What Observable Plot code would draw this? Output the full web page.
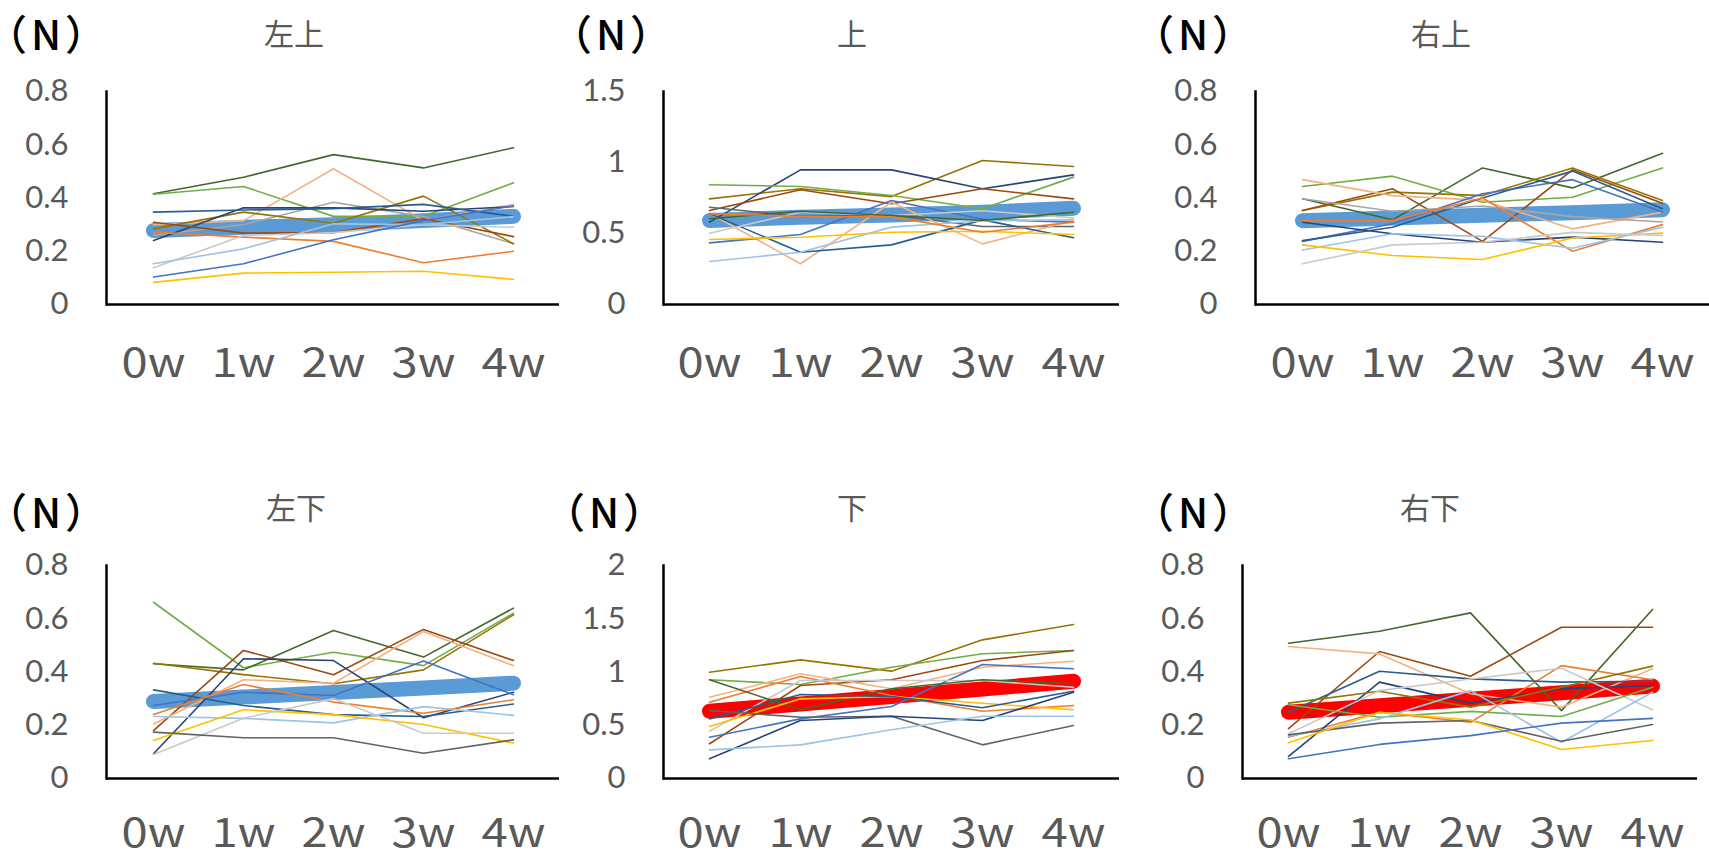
<!DOCTYPE html>
<html>
<head>
<meta charset="utf-8">
<script src="https://cdn.jsdelivr.net/npm/d3@7"></script>
<script src="https://cdn.jsdelivr.net/npm/@observablehq/plot@0.6"></script>
<style>
  html, body { margin: 0; padding: 0; background: #fff; }
  #root { position: relative; width: 1709px; height: 859px; overflow: hidden; }
  .unit { position: absolute; font-family: "Noto Sans CJK JP", sans-serif; font-size: 41px; font-weight: 500; color: #000; line-height: 1.5; letter-spacing: 4px; font-feature-settings: "halt" 1; transform: translate(-50%, -50%); white-space: nowrap; }
  .ttl { position: absolute; font-family: "Noto Sans CJK JP", sans-serif; font-size: 30px; color: #595959; line-height: 1.5; transform: translate(-50%, -50%); white-space: nowrap; }
</style>
</head>
<body>
<div id="root"></div>
<script>
// ---------- data ----------
const weeks = ["0w", "1w", "2w", "3w", "4w"];
const titles = ["左上", "上", "右上", "左下", "下", "右下"];
const unitLabel = "（N）";

// series colours (Excel-like palette)
const blue = "#4472C4", orange = "#ED7D31", gray = "#A5A5A5", yellow = "#FFC000";
const green = "#70AD47", navy = "#264478", brown = "#9E480E", dkgray = "#636363";
const gold = "#997300", steel = "#255E91", dkgreen = "#43682B";
const ltorange = "#F4B183", ltblue = "#9DC3E6", ltgray = "#C9C9C9";
const avgBlue = "#5B9BD5", avgRed = "#FF0000";

// 左上
const ulColors = [dkgreen, green, ltorange, gray, gold, navy, steel, orange, brown, ltgray, ltblue, blue, yellow];
const ulSeries = [
  [0.416, 0.478, 0.563, 0.513, 0.589],
  [0.414, 0.443, 0.331, 0.331, 0.457],
  [0.300, 0.315, 0.510, 0.315, 0.376],
  [0.260, 0.300, 0.384, 0.330, 0.228],
  [0.284, 0.347, 0.305, 0.407, 0.228],
  [0.240, 0.363, 0.363, 0.350, 0.368],
  [0.347, 0.355, 0.360, 0.376, 0.331],
  [0.272, 0.253, 0.237, 0.157, 0.200],
  [0.309, 0.268, 0.270, 0.322, 0.255],
  [0.138, 0.259, 0.270, 0.300, 0.290],
  [0.153, 0.209, 0.303, 0.300, 0.330],
  [0.103, 0.153, 0.243, 0.315, 0.370],
  [0.083, 0.118, 0.121, 0.125, 0.094]
];
const ulAvg = [0.278, 0.290, 0.300, 0.315, 0.331];
const ulTicks = [0, 0.2, 0.4, 0.6, 0.8];

// 上
const uColors = [gold, navy, green, brown, dkgray, ltorange, blue, steel, ltblue, yellow, ltgray, dkgreen, orange];
const uSeries = [
  [0.744, 0.815, 0.760, 1.014, 0.972],
  [0.580, 0.948, 0.948, 0.815, 0.913],
  [0.843, 0.831, 0.768, 0.674, 0.897],
  [0.662, 0.808, 0.709, 0.815, 0.744],
  [0.685, 0.620, 0.630, 0.549, 0.549],
  [0.643, 0.287, 0.720, 0.427, 0.592],
  [0.434, 0.493, 0.732, 0.600, 0.580],
  [0.640, 0.368, 0.420, 0.596, 0.470],
  [0.303, 0.368, 0.545, 0.590, 0.596],
  [0.458, 0.474, 0.509, 0.516, 0.493],
  [0.502, 0.650, 0.627, 0.660, 0.610],
  [0.604, 0.657, 0.627, 0.592, 0.650],
  [0.640, 0.620, 0.617, 0.509, 0.580]
];
const uAvg = [0.592, 0.615, 0.630, 0.650, 0.678];
const uTicks = [0, 0.5, 1, 1.5];

// 右上
const urColors = [dkgreen, green, gold, brown, ltorange, blue, steel, navy, gray, orange, ltblue, yellow, ltgray];
const urSeries = [
  [0.397, 0.318, 0.513, 0.438, 0.568],
  [0.443, 0.482, 0.384, 0.403, 0.513],
  [0.353, 0.422, 0.409, 0.513, 0.391],
  [0.353, 0.435, 0.237, 0.506, 0.380],
  [0.469, 0.409, 0.391, 0.284, 0.347],
  [0.237, 0.303, 0.416, 0.469, 0.347],
  [0.240, 0.290, 0.400, 0.501, 0.360],
  [0.309, 0.266, 0.234, 0.253, 0.234],
  [0.397, 0.350, 0.370, 0.330, 0.310],
  [0.315, 0.315, 0.400, 0.200, 0.300],
  [0.205, 0.266, 0.256, 0.211, 0.290],
  [0.224, 0.184, 0.169, 0.250, 0.268],
  [0.153, 0.224, 0.234, 0.271, 0.259]
];
const urAvg = [0.315, 0.325, 0.335, 0.345, 0.356];
const urTicks = [0, 0.2, 0.4, 0.6, 0.8];

// 左下
const llColors = [green, dkgreen, gold, brown, ltorange, navy, blue, steel, orange, ltblue, yellow, ltgray, dkgray];
const llSeries = [
  [0.662, 0.416, 0.474, 0.424, 0.621],
  [0.431, 0.408, 0.556, 0.456, 0.640],
  [0.433, 0.390, 0.356, 0.408, 0.615],
  [0.180, 0.481, 0.390, 0.560, 0.443],
  [0.205, 0.371, 0.358, 0.552, 0.424],
  [0.093, 0.450, 0.443, 0.228, 0.324],
  [0.274, 0.324, 0.312, 0.441, 0.315],
  [0.333, 0.274, 0.240, 0.233, 0.280],
  [0.240, 0.353, 0.287, 0.245, 0.296],
  [0.233, 0.226, 0.209, 0.270, 0.237],
  [0.143, 0.258, 0.240, 0.203, 0.133],
  [0.090, 0.226, 0.300, 0.170, 0.170],
  [0.174, 0.153, 0.153, 0.095, 0.145]
];
const llAvg = [0.289, 0.306, 0.323, 0.340, 0.358];
const llTicks = [0, 0.2, 0.4, 0.6, 0.8];

// 下
const lColors = [gold, green, brown, ltorange, orange, blue, ltgray, dkgreen, yellow, steel, dkgray, navy, ltblue];
const lSeries = [
  [0.998, 1.114, 1.008, 1.302, 1.446],
  [0.927, 0.883, 1.045, 1.171, 1.202],
  [0.326, 0.873, 0.927, 1.108, 1.202],
  [0.763, 0.983, 0.842, 1.045, 1.101],
  [0.716, 0.958, 0.779, 0.632, 0.685],
  [0.388, 0.560, 0.676, 1.070, 1.030],
  [0.444, 0.920, 0.920, 0.920, 0.857],
  [0.927, 0.645, 0.842, 0.927, 0.890],
  [0.488, 0.748, 0.770, 0.707, 0.645],
  [0.560, 0.789, 0.770, 0.664, 0.820],
  [0.638, 0.575, 0.585, 0.316, 0.498],
  [0.185, 0.545, 0.585, 0.545, 0.810],
  [0.269, 0.316, 0.457, 0.585, 0.585]
];
const lAvg = [0.632, 0.700, 0.770, 0.840, 0.914];
const lTicks = [0, 0.5, 1, 1.5, 2];

// 右下
const lrColors = [dkgreen, brown, ltorange, orange, steel, navy, gold, ltgray, green, ltblue, dkgray, yellow, blue];
const lrSeries = [
  [0.508, 0.553, 0.622, 0.255, 0.635],
  [0.187, 0.477, 0.384, 0.568, 0.568],
  [0.496, 0.468, 0.318, 0.268, 0.412],
  [0.155, 0.249, 0.211, 0.424, 0.371],
  [0.249, 0.403, 0.374, 0.362, 0.365],
  [0.083, 0.362, 0.283, 0.337, 0.349],
  [0.283, 0.328, 0.268, 0.343, 0.422],
  [0.168, 0.330, 0.374, 0.414, 0.258],
  [0.277, 0.230, 0.252, 0.233, 0.343],
  [0.159, 0.224, 0.330, 0.136, 0.324],
  [0.164, 0.208, 0.218, 0.140, 0.203],
  [0.134, 0.249, 0.220, 0.109, 0.143],
  [0.074, 0.128, 0.161, 0.208, 0.226]
];
const lrAvg = [0.249, 0.273, 0.298, 0.322, 0.347];
const lrTicks = [0, 0.2, 0.4, 0.6, 0.8];

// ---------- layout ----------
// plot area: top row y 91..304, bottom row y 565..778
const ML = 106, PLOT_H = 213, H = 395;
const panels = [
  {series: ulSeries, colors: ulColors, avg: ulAvg, avgColor: avgBlue, ticks: ulTicks, axisX: 106,  len: 453, svgTop: 0,   mt: 91,  pad: 44, unitX: 48,   unitY: 33,  titleX: 294,  titleY: 32},
  {series: uSeries,  colors: uColors,  avg: uAvg,  avgColor: avgBlue, ticks: uTicks,  axisX: 663,  len: 456, svgTop: 0,   mt: 91,  pad: 44, unitX: 613,  unitY: 33,  titleX: 852,  titleY: 32},
  {series: urSeries, colors: urColors, avg: urAvg, avgColor: avgBlue, ticks: urTicks, axisX: 1255, len: 454, svgTop: 0,   mt: 91,  pad: 44, unitX: 1195, unitY: 33,  titleX: 1441, titleY: 32},
  {series: llSeries, colors: llColors, avg: llAvg, avgColor: avgBlue, ticks: llTicks, axisX: 106,  len: 453, svgTop: 464, mt: 101, pad: 40, unitX: 48,   unitY: 511, titleX: 296,  titleY: 506},
  {series: lSeries,  colors: lColors,  avg: lAvg,  avgColor: avgRed,  ticks: lTicks,  axisX: 663,  len: 456, svgTop: 464, mt: 101, pad: 40, unitX: 606,  unitY: 511, titleX: 852,  titleY: 506},
  {series: lrSeries, colors: lrColors, avg: lrAvg, avgColor: avgRed,  ticks: lrTicks, axisX: 1242, len: 455, svgTop: 464, mt: 101, pad: 40, unitX: 1195, unitY: 511, titleX: 1430, titleY: 506}
];

const root = document.getElementById("root");

panels.forEach((p, k) => {
  const yMax = p.ticks[p.ticks.length - 1];
  const marks = [
    Plot.axisY({ticks: p.ticks, tickSize: 0, tickPadding: 38, tickFormat: d => String(d),
                fontSize: 31, fontFamily: "Lato, sans-serif", fill: "#595959"}),
    Plot.axisX({tickSize: 0, tickPadding: p.pad, fontSize: 40, fontFamily: "'Noto Sans CJK JP', sans-serif", fill: "#595959"}),
    Plot.line(weeks, {x: d => d, y: (d, i) => p.avg[i], stroke: p.avgColor, strokeWidth: 15, strokeLinecap: "round"}),
    ...p.series.map((vals, s) => Plot.line(weeks, {x: d => d, y: (d, i) => vals[i], stroke: p.colors[s], strokeWidth: 1.6})),
    Plot.ruleY([0], {stroke: "#000", strokeWidth: 2.5}),
    Plot.frame({anchor: "left", stroke: "#000", strokeWidth: 2.5})
  ];
  const chart = Plot.plot({
    width: ML + p.len + 2,
    height: H,
    marginLeft: ML, marginRight: 2, marginTop: p.mt, marginBottom: H - p.mt - PLOT_H,
    style: {background: "transparent", overflow: "visible"},
    x: {type: "point", domain: weeks, padding: 0.5, label: null},
    y: {domain: [0, yMax], label: null},
    marks
  });
  // widen the x tick labels to match the reference's broad typeface
  d3.select(chart).selectAll("g[aria-label='x-axis tick label'] text")
    .attr("textLength", 64).attr("lengthAdjust", "spacingAndGlyphs");
  chart.style.position = "absolute";
  chart.style.left = (p.axisX - ML) + "px";
  chart.style.top = p.svgTop + "px";
  root.appendChild(chart);

  const u = document.createElement("div");
  u.className = "unit";
  u.textContent = unitLabel;
  u.style.left = p.unitX + "px";
  u.style.top = p.unitY + "px";
  root.appendChild(u);

  const t = document.createElement("div");
  t.className = "ttl";
  t.textContent = titles[k];
  t.style.left = p.titleX + "px";
  t.style.top = p.titleY + "px";
  root.appendChild(t);
});
</script>
</body>
</html>
